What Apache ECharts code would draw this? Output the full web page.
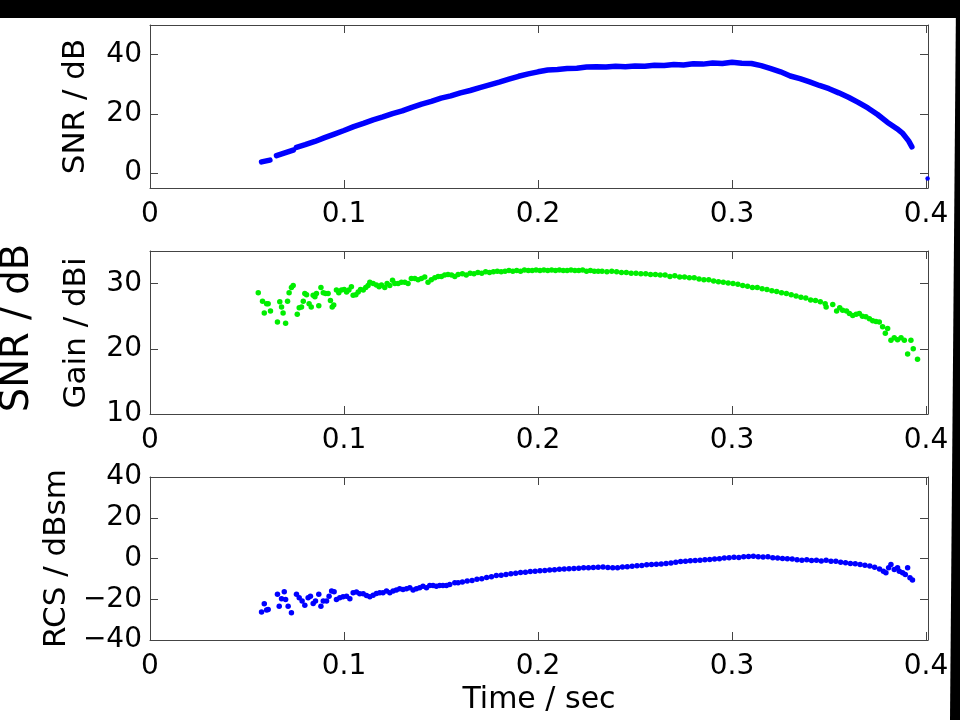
<!DOCTYPE html>
<html>
<head>
<meta charset="utf-8">
<script src="https://cdn.jsdelivr.net/npm/echarts@6/dist/echarts.min.js"></script>
<style>
  html, body { margin: 0; padding: 0; background: #fff; }
  #chart { width: 960px; height: 720px; }
</style>
</head>
<body>
<div id="chart"></div>
<script>
// Time ticks shared by the three panels (seconds)
const timeTicks = [0, 0.1, 0.2, 0.3, 0.4];
const snrTicks = [0, 20, 40];
const gainTicks = [10, 20, 30];
const rcsTicks = [-40, -20, 0, 20, 40];

// Signal-to-noise ratio track [time s, dB]; null entries are dropouts
const snrTrack = [
  [0.0575, 3.8], [0.0618, 4.4], [0.0635, null], [0.0652, 5.9], [0.0738, 7.8], [0.0746, null],
  [0.0755, 8.7], [0.080, 9.6], [0.085, 10.7], [0.090, 12.0], [0.095, 13.2], [0.100, 14.4],
  [0.105, 15.7], [0.110, 16.8], [0.115, 18.0], [0.120, 19.0], [0.125, 20.1], [0.130, 21.0],
  [0.135, 22.2], [0.140, 23.3], [0.145, 24.2], [0.150, 25.3], [0.155, 26.1], [0.160, 27.1],
  [0.165, 27.9], [0.170, 28.9], [0.175, 29.8], [0.180, 30.7], [0.185, 31.7], [0.190, 32.7],
  [0.195, 33.5], [0.200, 34.2], [0.205, 34.8], [0.210, 35.0], [0.215, 35.3], [0.220, 35.4],
  [0.225, 35.8], [0.230, 35.9], [0.235, 35.8], [0.240, 36.1], [0.245, 35.9], [0.250, 36.2],
  [0.255, 36.1], [0.260, 36.4], [0.265, 36.3], [0.270, 36.7], [0.275, 36.5], [0.280, 36.9],
  [0.285, 36.8], [0.290, 37.2], [0.295, 37.0], [0.300, 37.4], [0.305, 37.1], [0.310, 37.0],
  [0.315, 36.3], [0.320, 35.3], [0.325, 34.2], [0.330, 32.8], [0.335, 31.9], [0.340, 30.8],
  [0.345, 29.6], [0.350, 28.5], [0.355, 27.1], [0.360, 25.6], [0.365, 23.9], [0.370, 22.0],
  [0.375, 19.8], [0.380, 17.2], [0.385, 15.0], [0.388, 13.4], [0.391, 10.9], [0.3927, 8.9]
];
// Lone late SNR sample at the end of the record
const snrLate = [[0.4008, -1.8]];

// Antenna gain samples [time s, dBi]
const gainPoints = [
  [0.0558, 28.6], [0.0580, 27.3], [0.0589, 25.5], [0.0601, 26.9], [0.0609, 26.9], [0.0621, 25.8],
  [0.0657, 24.1], [0.0669, 27.2], [0.0678, 26.4], [0.0686, 25.5], [0.0699, 23.9], [0.0709, 27.3],
  [0.0717, 28.6], [0.0729, 29.4], [0.0738, 29.7], [0.0759, 25.3], [0.0769, 26.3], [0.0781, 26.4],
  [0.0790, 27.3], [0.0798, 28.5], [0.0807, 28.3], [0.0820, 26.9], [0.0831, 26.4], [0.0841, 28.2],
  [0.0850, 28.0], [0.0858, 28.5], [0.0870, 26.6], [0.0881, 29.4], [0.0893, 28.6], [0.0905, 28.5],
  [0.0918, 28.5], [0.0930, 27.4], [0.0939, 26.4], [0.0947, 26.7], [0.0961, 29.0], [0.0973, 28.6],
  [0.0987, 29.0], [0.1001, 29.1], [0.1013, 28.7], [0.1025, 29.0], [0.1038, 29.5], [0.1047, 28.2],
  [0.1061, 28.3], [0.1073, 28.7], [0.1085, 29.1], [0.1099, 29.0], [0.1112, 29.4], [0.1124, 29.7],
  [0.1133, 30.2], [0.1150, 30.0], [0.1167, 29.8], [0.1181, 29.5], [0.1193, 29.8], [0.1210, 29.4],
  [0.1222, 30.0], [0.1236, 29.7], [0.1250, 30.5], [0.1262, 30.0], [0.1279, 30.0], [0.1296, 30.2],
  [0.1313, 30.2], [0.1330, 30.0], [0.1347, 30.8], [0.1365, 30.8], [0.1382, 30.6], [0.1399, 30.8],
  [0.1416, 31.0], [0.1433, 30.2], [0.1450, 30.6], [0.1468, 30.9], [0.1485, 31.1], [0.1502, 31.1],
  [0.1519, 31.3], [0.1536, 31.4], [0.1554, 31.3], [0.1571, 31.1], [0.1588, 31.4],
  [0.161, 31.5], [0.163, 31.3], [0.165, 31.6], [0.167, 31.5], [0.169, 31.7], [0.171, 31.6],
  [0.173, 31.8], [0.175, 31.7], [0.177, 31.8], [0.179, 31.9], [0.181, 31.8], [0.183, 31.9],
  [0.185, 32.0], [0.187, 31.9], [0.189, 32.0], [0.191, 31.9], [0.193, 32.1], [0.195, 32.0],
  [0.197, 32.0], [0.199, 32.1], [0.201, 32.0], [0.203, 32.1], [0.205, 32.0], [0.207, 32.1],
  [0.209, 32.0], [0.211, 32.1], [0.213, 32.0], [0.215, 32.0], [0.217, 32.1], [0.219, 32.0],
  [0.221, 32.0], [0.223, 32.1], [0.225, 31.9], [0.227, 32.0], [0.229, 31.9], [0.231, 31.9],
  [0.233, 31.9], [0.2355, 31.8], [0.238, 31.9], [0.2405, 31.8], [0.243, 31.7], [0.2455, 31.7],
  [0.248, 31.6], [0.2505, 31.6], [0.253, 31.5], [0.2555, 31.5], [0.258, 31.4], [0.2605, 31.4],
  [0.263, 31.3], [0.2655, 31.3], [0.268, 31.1], [0.2705, 31.2], [0.273, 31.0], [0.2755, 31.0],
  [0.278, 30.9], [0.2805, 30.9], [0.283, 30.7], [0.2855, 30.6], [0.288, 30.6], [0.2905, 30.4],
  [0.293, 30.3], [0.2955, 30.2], [0.298, 30.1], [0.3005, 30.0], [0.303, 29.9], [0.3055, 29.7],
  [0.308, 29.6], [0.3105, 29.4], [0.313, 29.4], [0.3155, 29.2], [0.318, 29.1], [0.3205, 28.9],
  [0.323, 28.8], [0.3255, 28.6], [0.328, 28.5], [0.3305, 28.3], [0.333, 28.1], [0.3355, 27.9],
  [0.338, 27.8], [0.3405, 27.5], [0.343, 27.4], [0.3455, 27.2], [0.348, 26.9],
  [0.3485, 26.4], [0.3519, 26.8], [0.3539, 25.8], [0.3555, 26.3], [0.3570, 25.9], [0.3590, 25.8],
  [0.3605, 25.4], [0.3622, 25.1], [0.3640, 25.3], [0.3656, 25.4], [0.3672, 25.0], [0.3690, 24.9],
  [0.3708, 24.6], [0.3725, 24.3], [0.3742, 24.2], [0.3759, 24.1], [0.3776, 23.4], [0.3790, 22.4],
  [0.3802, 23.1], [0.3819, 21.3], [0.3836, 21.7], [0.3853, 21.4], [0.3871, 21.7], [0.3888, 21.3],
  [0.3905, 19.2], [0.3922, 21.3], [0.3934, 20.0], [0.3956, 18.4]
];

// Radar cross section samples [time s, dBsm]
const rcsPoints = [
  [0.0575, -26.3], [0.0589, -22.2], [0.0601, -25.3], [0.0609, -25.0], [0.0657, -17.6], [0.0666, -23.4],
  [0.0678, -19.8], [0.0692, -16.3], [0.0699, -20.1], [0.0712, -23.4], [0.0729, -26.6], [0.0755, -17.6],
  [0.0769, -19.3], [0.0784, -20.9], [0.0798, -23.0], [0.0815, -19.3], [0.0827, -18.5], [0.0841, -22.1],
  [0.0853, -20.9], [0.0870, -17.6], [0.0881, -23.4], [0.0893, -20.9], [0.0910, -20.9], [0.0923, -18.5],
  [0.0936, -16.0], [0.0949, -16.3], [0.0961, -20.1], [0.0978, -19.3], [0.0995, -18.8], [0.1013, -18.5],
  [0.1030, -19.8], [0.1047, -16.8], [0.1064, -16.5], [0.1081, -17.3], [0.1099, -17.3], [0.1116, -18.1],
  [0.1133, -18.8], [0.1150, -18.0], [0.1167, -17.2], [0.1184, -16.8], [0.1201, -16.8], [0.1219, -16.0],
  [0.1236, -16.8], [0.1253, -16.0], [0.1270, -15.5], [0.1287, -14.9], [0.1304, -15.2], [0.1322, -14.9],
  [0.1339, -14.4], [0.1356, -15.5], [0.1373, -14.9], [0.1390, -14.4], [0.1407, -13.6], [0.1425, -14.4],
  [0.1442, -13.2], [0.1459, -13.2], [0.1476, -13.6], [0.1493, -13.2], [0.1510, -13.2], [0.1528, -13.2],
  [0.1545, -12.7], [0.1571, -11.9], [0.1588, -11.9],
  [0.161, -11.5], [0.1635, -11.0], [0.166, -10.8], [0.1685, -10.2], [0.171, -9.9], [0.1735, -9.3],
  [0.176, -9.0], [0.1785, -8.4], [0.181, -8.2], [0.1835, -7.8], [0.186, -7.5], [0.1885, -7.3],
  [0.191, -6.9], [0.1935, -6.8], [0.196, -6.4], [0.1985, -6.2], [0.201, -6.0], [0.2035, -5.9],
  [0.206, -5.6], [0.2085, -5.5], [0.211, -5.3], [0.2135, -5.2], [0.216, -5.0], [0.2185, -4.9],
  [0.221, -4.8], [0.2235, -4.6], [0.226, -4.5], [0.2285, -4.4], [0.231, -4.3], [0.2335, -4.2],
  [0.236, -4.4], [0.2385, -4.6], [0.241, -4.5], [0.2435, -4.2], [0.246, -4.0], [0.2485, -3.8],
  [0.251, -3.6], [0.2535, -3.4], [0.256, -3.1], [0.2585, -2.9], [0.261, -2.8], [0.2635, -2.7],
  [0.266, -2.5], [0.2685, -2.2], [0.271, -1.8], [0.2735, -1.5], [0.276, -1.3], [0.2785, -1.1],
  [0.281, -1.0], [0.2835, -0.8], [0.286, -0.6], [0.2885, -0.5], [0.291, -0.3], [0.2935, -0.1],
  [0.296, 0.2], [0.2985, 0.4], [0.301, 0.6], [0.3035, 0.5], [0.306, 0.8], [0.3085, 1.0],
  [0.311, 1.1], [0.3135, 0.9], [0.316, 0.7], [0.3185, 0.8], [0.321, 0.4], [0.3235, 0.3],
  [0.326, 0.0], [0.3285, -0.1], [0.331, -0.3], [0.3335, -0.6], [0.336, -0.8], [0.3385, -0.6],
  [0.341, -1.0], [0.3435, -0.9], [0.346, -1.2], [0.3485, -0.8], [0.351, -1.3], [0.3535, -1.4],
  [0.356, -1.9], [0.3585, -2.1], [0.361, -2.5], [0.3635, -2.6], [0.366, -2.9], [0.3685, -3.3],
  [0.371, -3.7], [0.3735, -4.3], [0.376, -5.2], [0.378, -6.2],
  [0.3793, -7.0], [0.3807, -4.6], [0.3819, -2.9], [0.3836, -5.4], [0.3853, -4.6], [0.3862, -6.2],
  [0.3879, -7.0], [0.3893, -7.8], [0.3905, -4.6], [0.3917, -9.5], [0.3930, -10.6]
];

const FONT = '"DejaVu Sans", sans-serif';
const FRAME = '#444';
const chart = echarts.init(document.getElementById('chart'));

// Panel rectangles (pixels)
const panels = [
  { top: 25, height: 163, ymin: -5, ymax: 50, ticks: snrTicks },
  { top: 251, height: 163, ymin: 10, ymax: 35, ticks: gainTicks },
  { top: 477, height: 163, ymin: -40, ymax: 40, ticks: rcsTicks }
];

const fmtNum = v => (v < 0 ? '\u2212' + Math.abs(v) : String(v));

const grids = [], xAxes = [], yAxes = [];
panels.forEach((p, i) => {
  grids.push({ left: 150, width: 778, top: p.top, height: p.height, containLabel: false });
  ['bottom', 'top'].forEach(pos => {
    xAxes.push({
      type: 'value', gridIndex: i, position: pos, min: 0, max: 0.401,
      axisLine: { show: true, onZero: false, lineStyle: { color: FRAME, width: 1 } },
      axisTick: { show: true, inside: true, length: 8, customValues: timeTicks, lineStyle: { color: FRAME } },
      axisLabel: {
        show: pos === 'bottom', customValues: timeTicks, margin: 13,
        color: '#000', fontFamily: FONT, fontSize: 28,
        formatter: v => (v === 0 ? '0' : v.toFixed(1))
      },
      splitLine: { show: false }
    });
  });
  ['left', 'right'].forEach(pos => {
    yAxes.push({
      type: 'value', gridIndex: i, position: pos, min: p.ymin, max: p.ymax,
      axisLine: { show: true, onZero: false, lineStyle: { color: FRAME, width: 1 } },
      axisTick: { show: true, inside: true, length: 8, customValues: p.ticks, lineStyle: { color: FRAME } },
      axisLabel: {
        show: pos === 'left', customValues: p.ticks, margin: 8,
        color: '#000', fontFamily: FONT, fontSize: 28, formatter: fmtNum
      },
      splitLine: { show: false }
    });
  });
});

const rotatedLabel = (text, x, y, size) => ({
  type: 'text', x: x, y: y, rotation: Math.PI / 2, z: 100,
  style: {
    text: text, fill: '#000', fontFamily: FONT, fontSize: size,
    font: size + 'px ' + FONT,
    align: 'center', verticalAlign: 'middle', textAlign: 'center', textVerticalAlign: 'middle'
  }
});

chart.setOption({
  animation: false,
  backgroundColor: '#fff',
  grid: grids,
  xAxis: xAxes,
  yAxis: yAxes,
  series: [
    {
      type: 'line', xAxisIndex: 0, yAxisIndex: 0, data: snrTrack,
      showSymbol: false, connectNulls: false, smooth: false,
      lineStyle: { color: '#0000ff', width: 5.5, cap: 'round', join: 'round' }
    },
    {
      type: 'scatter', xAxisIndex: 0, yAxisIndex: 0, data: snrLate,
      symbolSize: 4.5, itemStyle: { color: '#0000ff', opacity: 1 }
    },
    {
      type: 'scatter', xAxisIndex: 2, yAxisIndex: 2, data: gainPoints,
      symbolSize: 5.5, itemStyle: { color: '#00ee00', opacity: 1 }
    },
    {
      type: 'scatter', xAxisIndex: 4, yAxisIndex: 4, data: rcsPoints,
      symbolSize: 5.5, itemStyle: { color: '#0000ff', opacity: 1 }
    }
  ],
  graphic: [
    { type: 'rect', shape: { x: 0, y: 0, width: 960, height: 18 }, style: { fill: '#000' }, z: 200 },
    { type: 'polygon', shape: { points: [[956, 0], [960, 0], [960, 720], [950, 720]] }, style: { fill: '#000' }, z: 200 },
    rotatedLabel('SNR / dB', 76, 106.5, 31),
    rotatedLabel('Gain / dBi', 76.5, 333, 31),
    rotatedLabel('RCS / dBsm', 57, 558.5, 31),
    rotatedLabel('SNR / dB', 18, 328, 38.5),
    {
      type: 'text', x: 539, y: 700, z: 100,
      style: {
        text: 'Time / sec', fill: '#000', fontFamily: FONT, fontSize: 30,
        font: '30px ' + FONT,
        align: 'center', verticalAlign: 'middle', textAlign: 'center', textVerticalAlign: 'middle'
      }
    }
  ]
});
</script>
</body>
</html>
